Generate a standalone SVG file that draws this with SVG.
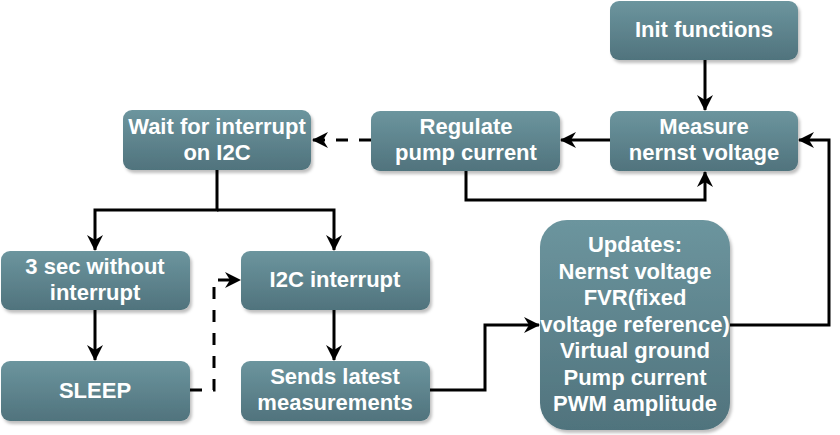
<svg xmlns="http://www.w3.org/2000/svg" width="840" height="435" viewBox="0 0 840 435">
<style>
.box{fill:url(#g);filter:url(#sh)}
.t{font-family:"Liberation Sans",Arial,sans-serif;font-weight:bold;font-size:22px;fill:#ffffff;text-anchor:middle}
.c{fill:none;stroke:#000;stroke-width:3;marker-end:url(#a)}
.d{stroke-dasharray:12 11}
</style>
<defs>
<linearGradient id="g" x1="0" y1="0" x2="0" y2="1">
<stop offset="0" stop-color="#6c959e"/>
<stop offset="1" stop-color="#50737d"/>
</linearGradient>
<filter id="sh" x="-10%" y="-10%" width="130%" height="130%">
<feDropShadow dx="2" dy="3" stdDeviation="1.5" flood-color="#000" flood-opacity="0.25"/>
</filter>
<marker id="a" viewBox="0 0 16 16" refX="15" refY="8" markerWidth="16" markerHeight="16" markerUnits="userSpaceOnUse" orient="auto">
<path d="M0,0 L16,8 L0,16 L5,8 Z" fill="#000"/>
</marker>
</defs>
<g id="connectors">
<path class="c" d="M705,60 L705,110"/>
<path class="c" d="M610,140 L561,140"/>
<path class="c" d="M466,171 L466,200 L705,200 L705,172"/>
<path class="c d" d="M371,140 L313,140"/>
<path class="c" d="M217,170 L217,210 L95,210 L95,250"/>
<path class="c" d="M217,210 L334,210 L334,250"/>
<path class="c" d="M95,310 L95,360"/>
<path class="c d" d="M190,390 L214,390 L214,280 L240,280"/>
<path class="c" d="M334,310 L334,360"/>
<path class="c" d="M430,390 L485,390 L485,325 L539,325"/>
<path class="c" d="M730,325 L829,325 L829,140 L799,140"/>
</g>
<g id="init"><rect class="box" x="610" y="1" width="188" height="59" rx="9"/><text class="t" x="704" y="37">Init functions</text></g>
<g id="measure"><rect class="box" x="610" y="111" width="188" height="60" rx="9"/><text class="t" x="704" y="134">Measure</text><text class="t" x="704" y="160">nernst voltage</text></g>
<g id="regulate"><rect class="box" x="371" y="111" width="189" height="60" rx="9"/><text class="t" x="466" y="134">Regulate</text><text class="t" x="466" y="160">pump current</text></g>
<g id="wait"><rect class="box" x="123" y="110" width="188" height="60" rx="9"/><text class="t" x="217" y="134">Wait for interrupt</text><text class="t" x="217" y="160">on I2C</text></g>
<g id="nointerrupt"><rect class="box" x="1" y="251" width="189" height="59" rx="9"/><text class="t" x="95" y="274">3 sec without</text><text class="t" x="95" y="300">interrupt</text></g>
<g id="sleep"><rect class="box" x="1" y="361" width="189" height="60" rx="9"/><text class="t" x="95" y="398">SLEEP</text></g>
<g id="i2c"><rect class="box" x="241" y="251" width="189" height="59" rx="9"/><text class="t" x="335" y="287">I2C interrupt</text></g>
<g id="sends"><rect class="box" x="241" y="361" width="189" height="60" rx="9"/><text class="t" x="335" y="384">Sends latest</text><text class="t" x="335" y="410">measurements</text></g>
<g id="updates"><rect class="box" x="540" y="220" width="190" height="210" rx="27"/>
<text class="t" x="635" y="252">Updates:</text>
<text class="t" x="635" y="278.5">Nernst voltage</text>
<text class="t" x="635" y="305">FVR(fixed</text>
<text class="t" x="635" y="331.5">voltage reference)</text>
<text class="t" x="635" y="358">Virtual ground</text>
<text class="t" x="635" y="384.5">Pump current</text>
<text class="t" x="635" y="411">PWM amplitude</text>
</g>
</svg>
